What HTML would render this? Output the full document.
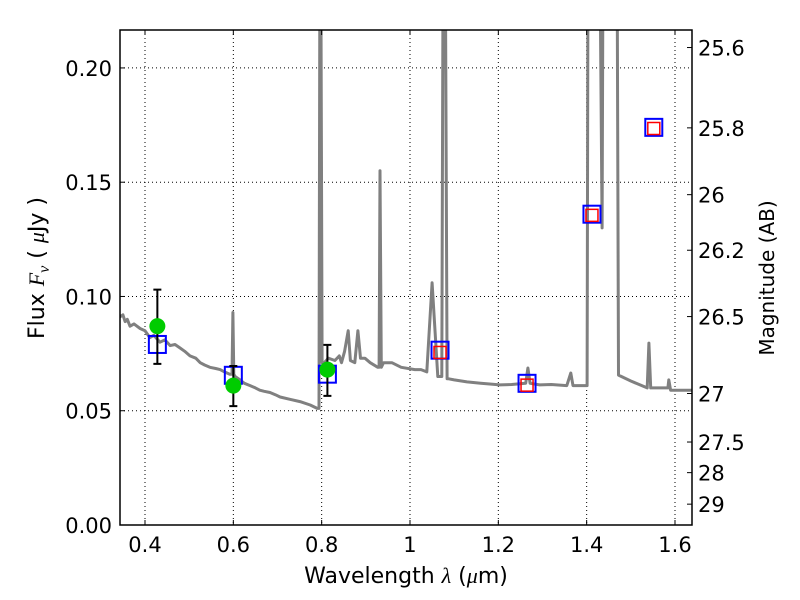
<!DOCTYPE html>
<html><head><meta charset="utf-8">
<style>
html,body{margin:0;padding:0;background:#fff;}
svg{display:block;font-family:"DejaVu Sans","Liberation Sans",sans-serif;}
</style></head>
<body>
<svg id="chart" width="800" height="600" viewBox="0 0 800 600">
<rect x="0" y="0" width="800" height="600" fill="#fff"/>
<g id="grid"></g>
<g id="spec"></g>
<g id="marks"></g>
<g id="axes"></g>
<text x="406" y="583" text-anchor="middle" font-size="22">Wavelength  <tspan font-family="Liberation Serif" font-style="italic">λ</tspan> (<tspan font-family="Liberation Serif" font-style="italic">μ</tspan>m)</text>
<text transform="translate(44,268) rotate(-90)" text-anchor="middle" font-size="22">Flux  <tspan font-family="Liberation Serif" font-style="italic">F<tspan font-size="16" dy="5">ν</tspan></tspan><tspan dy="-5">  (  </tspan><tspan font-family="Liberation Serif" font-style="italic">μ</tspan>Jy )</text>
<text transform="translate(774,278) rotate(-90)" text-anchor="middle" font-size="20">Magnitude (AB)</text>
</svg>
<script>
const xTicks=[0.4,0.6,0.8,1.0,1.2,1.4,1.6];
const xTickLabels=["0.4","0.6","0.8","1","1.2","1.4","1.6"];
const yTicks=[0,0.05,0.10,0.15,0.20];
const yTickLabels=["0.00","0.05","0.10","0.15","0.20"];
const magTicks=[25.6,25.8,26,26.2,26.5,27,27.5,28,29];
const magTickLabels=["25.6","25.8","26","26.2","26.5","27","27.5","28","29"];
const specLam=[0.343,0.350,0.355,0.360,0.366,0.375,0.389,0.400,0.411,0.420,0.434,0.445,0.457,0.468,0.479,0.490,0.502,0.515,0.525,0.535,0.547,0.560,0.570,0.580,0.592,0.597,0.599,0.601,0.604,0.615,0.625,0.638,0.650,0.660,0.670,0.683,0.695,0.706,0.728,0.751,0.774,0.790,0.794,0.796,0.798,0.801,0.806,0.815,0.830,0.840,0.845,0.852,0.860,0.865,0.875,0.882,0.888,0.898,0.910,0.927,0.930,0.932,0.935,0.940,0.959,0.980,1.011,1.025,1.038,1.050,1.063,1.072,1.075,1.080,1.084,1.086,1.100,1.129,1.160,1.204,1.230,1.262,1.267,1.272,1.294,1.320,1.355,1.364,1.369,1.396,1.401,1.403,1.430,1.435,1.437,1.469,1.472,1.500,1.537,1.541,1.545,1.550,1.584,1.586,1.590,1.595,1.638];
const specFlux=[0.091,0.092,0.089,0.090,0.087,0.088,0.086,0.085,0.082,0.083,0.080,0.081,0.0785,0.079,0.0775,0.076,0.074,0.073,0.071,0.070,0.069,0.0685,0.068,0.067,0.066,0.066,0.093,0.066,0.065,0.0635,0.062,0.061,0.060,0.059,0.0585,0.058,0.057,0.056,0.055,0.054,0.0525,0.051,0.051,0.25,0.25,0.071,0.071,0.073,0.072,0.074,0.071,0.076,0.085,0.072,0.071,0.085,0.073,0.073,0.071,0.069,0.069,0.155,0.069,0.071,0.071,0.069,0.068,0.068,0.067,0.106,0.065,0.065,0.25,0.25,0.064,0.064,0.0635,0.0626,0.062,0.0613,0.0615,0.062,0.0687,0.062,0.0613,0.0615,0.061,0.0665,0.061,0.061,0.061,0.25,0.25,0.130,0.25,0.25,0.0656,0.063,0.060,0.0796,0.060,0.060,0.060,0.0635,0.059,0.059,0.059];
const obsLam=[0.428,0.600,0.813];
const obsFlux=[0.087,0.061,0.068];
const obsLo=[0.0705,0.052,0.0565];
const obsHi=[0.103,0.0696,0.0788];
const modLam=[0.428,0.600,0.813,1.068,1.265,1.412,1.552];
const modFlux=[0.079,0.0655,0.066,0.0765,0.062,0.136,0.174];
const synLam=[1.068,1.265,1.412,1.552];
const synFlux=[0.0755,0.0612,0.1355,0.1735];

const L=120,R=692,T=30,B=525;
const xmin=0.3434,xmax=1.6385,ymin=0,ymax=0.2166;
const X=v=>L+(v-xmin)/(xmax-xmin)*(R-L);
const Y=v=>B-(v-ymin)/(ymax-ymin)*(B-T);
const magY=m=>Y(Math.pow(10,(23.9-m)/2.5));
const NS="http://www.w3.org/2000/svg";
function mk(tag,attrs,parent){const e=document.createElementNS(NS,tag);for(const k in attrs)e.setAttribute(k,attrs[k]);parent.appendChild(e);return e;}
const grid=document.getElementById('grid'),spec=document.getElementById('spec'),marks=document.getElementById('marks'),axes=document.getElementById('axes');

xTicks.forEach((t,i)=>{
  const x=X(t);
  const g=mk('line',{x1:x,x2:x,y1:T,y2:B,stroke:'#000','stroke-width':1,'stroke-dasharray':'1,3'},grid);
  
  
  const tk=mk('path',{d:`M${x},${B}v-5M${x},${T}v5`,stroke:'#000','stroke-width':1},axes);
  
  
  const lb=mk('text',{x:x,y:B+27,'text-anchor':'middle','font-size':21},axes);
  lb.textContent=xTickLabels[i];
  
  
});
yTicks.forEach((t,i)=>{
  const y=Y(t);
  const g=mk('line',{x1:L,x2:R,y1:y,y2:y,stroke:'#000','stroke-width':1,'stroke-dasharray':'1,3'},grid);
  
  
  const tk=mk('path',{d:`M${L},${y}h5`,stroke:'#000','stroke-width':1},axes);
  
  
  const lb=mk('text',{x:L-8,y:y+8,'text-anchor':'end','font-size':21},axes);
  lb.textContent=yTickLabels[i];
  
  
});
magTicks.forEach((m,i)=>{
  const y=magY(m);
  const tk=mk('path',{d:`M${R},${y}h-5`,stroke:'#000','stroke-width':1},axes);
  
  
  const lb=mk('text',{x:R+6,y:y+8,'text-anchor':'start','font-size':21},axes);
  lb.textContent=magTickLabels[i];
  
  
});

mk('clipPath',{id:'clip'},spec);
mk('rect',{x:L,y:T,width:R-L,height:B-T},document.getElementById('clip'));
const pts=specLam.map((l,i)=>`${X(l).toFixed(1)},${Y(specFlux[i]).toFixed(1)}`).join(' ');
const pl=mk('polyline',{points:pts,fill:'none',stroke:'#808080','stroke-width':3,'clip-path':'url(#clip)','stroke-linejoin':'round'},spec);



modLam.forEach((l,i)=>{
  const x=X(l),y=Y(modFlux[i]);
  const s=mk('rect',{x:x-8.5,y:y-8.5,width:17,height:17,fill:'none',stroke:'#0000ff','stroke-width':2},marks);
  
  
});
synLam.forEach((l,i)=>{
  const x=X(l),y=Y(synFlux[i]);
  const s=mk('rect',{x:x-6,y:y-6,width:12,height:12,fill:'none',stroke:'#ff0000','stroke-width':1.5},marks);
  
  
});
obsLam.forEach((l,i)=>{
  const x=X(l);
  const e=mk('path',{d:`M${x},${Y(obsLo[i])}V${Y(obsHi[i])}M${x-4},${Y(obsLo[i])}h8M${x-4},${Y(obsHi[i])}h8`,stroke:'#000','stroke-width':2},marks);
  
  
  const c=mk('circle',{cx:x,cy:Y(obsFlux[i]),r:8,fill:'#00cc00'},marks);
  
  
});
const fr=mk('rect',{x:L,y:T,width:R-L,height:B-T,fill:'none',stroke:'#000','stroke-width':1.5},axes);


</script>
</body></html>
